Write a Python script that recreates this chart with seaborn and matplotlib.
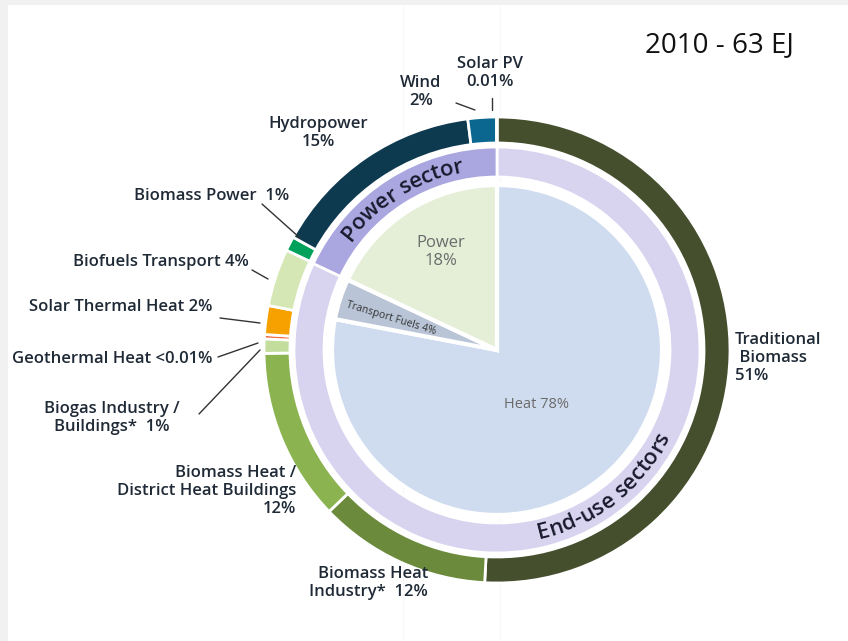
import numpy as np
import matplotlib
matplotlib.use("Agg")
import matplotlib.pyplot as plt
import seaborn as sns
from matplotlib.textpath import TextPath
from matplotlib.font_manager import FontProperties

# outer ring: sources, clockwise from 12 o'clock (visual share of the ring, %)
source_names = ["Traditional Biomass", "Biomass Heat Industry", "Biomass Heat District",
                "Biogas", "Geothermal Heat", "Solar Thermal Heat", "Biofuels Transport",
                "Biomass Power", "Hydropower", "Wind", "Solar PV"]
source_share = [51, 12, 12, 1, 0.3, 2, 4, 1, 15, 2, 0.01]
source_colors = ["#454f2d", "#6b8a3c", "#8bb350", "#c3dd9c", "#f26b3a", "#f7a100",
                 "#d6e7b6", "#00a15a", "#0e3a50", "#0b6690", "#7f8fa0"]

# middle ring: sectors
sector_names = ["End-use sectors", "Power sector"]
sector_share = [82, 18]
sector_colors = ["#d8d4f0", "#aaa6e0"]

# inner pie: uses
use_names = ["Heat", "Transport Fuels", "Power"]
use_share = [78, 4, 18]
use_colors = ["#cfdcef", "#b9c5d7", "#e5efd8"]

W, H = 848, 641
CX, CY = 497, H - 350

sns.set_theme(style="white")
plt.rcParams["font.family"] = ["Open Sans", "DejaVu Sans"]

fig = plt.figure(figsize=(W / 100, H / 100), dpi=100)
fig.patch.set_facecolor("#f1f1f1")
ax = fig.add_axes([8 / W, 0, 1 - 8 / W, 1 - 5 / H])
ax.set_facecolor("white")

ax.pie(source_share, colors=source_colors, radius=233, center=(CX, CY),
       startangle=90, counterclock=False, frame=True,
       wedgeprops=dict(width=26, edgecolor="white", linewidth=2))
ax.pie(sector_share, colors=sector_colors, radius=203, center=(CX, CY),
       startangle=90, counterclock=False, frame=True,
       wedgeprops=dict(width=30, edgecolor="white", linewidth=2))
ax.pie(use_share, colors=use_colors, radius=165, center=(CX, CY),
       startangle=90, counterclock=False, frame=True,
       wedgeprops=dict(edgecolor="white", linewidth=3))

ax.set_xlim(8, W)
ax.set_ylim(0, H - 5)
ax.set_aspect("equal")
ax.set_xticks([])
ax.set_yticks([])
for s in ax.spines.values():
    s.set_visible(False)

# faint slide guides
for gx in (403, 500):
    ax.plot([gx, gx], [0, H], color="#f8f8f8", lw=0.8, zorder=0)

dark = "#1f2a36"
fs = 12


def lab(x, y, s, ha="center", **kw):
    ax.text(x, H - y, s, ha=ha, va="center", fontsize=kw.pop("size", fs),
            color=kw.pop("color", dark), fontweight=kw.pop("weight", "semibold"),
            linespacing=1.2, **kw)


def leader(x0, y0, x1, y1):
    ax.plot([x0, x1], [H - y0, H - y1], color="#333333", lw=1)


ax.text(719, H - 45, "2010 - 63 EJ", ha="center", va="center", fontsize=20, color="#111111")

lab(490, 73, "Solar PV\n0.01%")
leader(492, 98, 492, 110)
lab(421, 92, "Wind\n2%")
leader(456, 103, 475, 110)
lab(318, 133, "Hydropower\n15%")
lab(289, 196, "Biomass Power  1%", ha="right")
leader(262, 204, 300, 238)
lab(249, 262, "Biofuels Transport 4%", ha="right")
leader(252, 270, 268, 279)
lab(212, 307, "Solar Thermal Heat 2%", ha="right")
leader(220, 318, 260, 323)
lab(212, 359, "Geothermal Heat <0.01%", ha="right")
leader(218, 357, 258, 343)
lab(112, 418, "Biogas Industry /\nBuildings*  1%")
leader(199, 414, 260, 350)
lab(296, 491, "Biomass Heat /\nDistrict Heat Buildings\n12%", ha="right", multialignment="right")
lab(428, 583, "Biomass Heat\nIndustry*  12%", ha="right", multialignment="right")
lab(735, 358, "Traditional\n Biomass\n51%", ha="left", multialignment="left")

lab(441, 252, "Power\n18%", color="#6b6b6b", weight="normal")
lab(536, 404, "Heat 78%", color="#6b6b6b", weight="normal", size=10.5)
ax.text(391, H - 318, "Transport Fuels 4%", ha="center", va="center", fontsize=7.5,
        color="#333333", rotation=-17, rotation_mode="anchor")


def curved(text, mid_deg, radius, size, top=True):
    fp = FontProperties(family="Open Sans", size=size, weight="semibold")
    scale = 100 / 72

    def w(s):
        return TextPath((0, 0), s + "l", prop=fp).get_extents().xmax * scale

    base = w("")
    total = w(text) - base
    half = total / 2
    for i, ch in enumerate(text):
        left = w(text[:i]) - base
        cw = w(ch) - base
        d = left + cw / 2 - half
        dang = np.degrees(d / radius)
        if top:
            ang = mid_deg - dang
            rot = ang - 90
        else:
            ang = mid_deg + dang
            rot = ang + 90
        x = CX + radius * np.cos(np.radians(ang))
        y = CY + radius * np.sin(np.radians(ang))
        ax.text(x, y, ch, fontsize=size, color="#1a1a2e", ha="center", va="center",
                rotation=rot, rotation_mode="anchor", fontweight="semibold")


curved("Power sector", 122, 187, 16, top=True)
curved("End-use sectors", -52, 188, 16, top=False)

fig.savefig("out.png", dpi=100, facecolor=fig.get_facecolor())
